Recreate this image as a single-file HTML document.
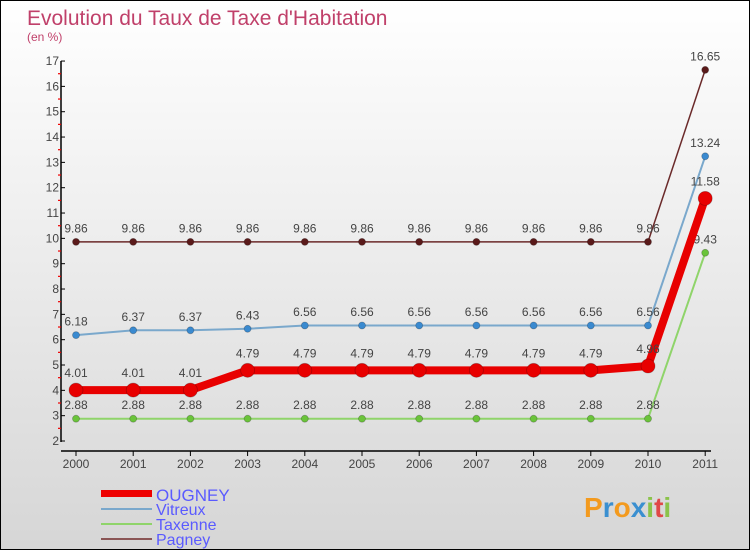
<!DOCTYPE html>
<html><head><meta charset="utf-8"><style>
body{margin:0}
#c{width:748px;height:548px;border:1px solid #000;background:linear-gradient(#fff,#d6d6d6);position:relative;overflow:hidden;font-family:"Liberation Sans",sans-serif}
</style></head><body>
<div id="c">
<svg id="s" width="748" height="548" xmlns="http://www.w3.org/2000/svg" font-family="Liberation Sans, sans-serif">
<text x="26" y="24" font-size="21" fill="#c0406a">Evolution du Taux de Taxe d'Habitation</text>
<text x="26" y="40" font-size="12" fill="#c0406a">(en %)</text>
<g id="axes"></g><g id="series"></g>
<g>
<rect x="100" y="489" width="51" height="7" fill="#e00"/>
<text x="155" y="500" font-size="17" fill="#5a5aff">OUGNEY</text>
<line x1="100" y1="508" x2="151" y2="508" stroke="#7aa8cc" stroke-width="2"/>
<text x="155" y="514" font-size="16" fill="#5a5aff">Vitreux</text>
<line x1="100" y1="523" x2="151" y2="523" stroke="#8fd46a" stroke-width="2"/>
<text x="155" y="529" font-size="16" fill="#5a5aff">Taxenne</text>
<line x1="100" y1="538" x2="151" y2="538" stroke="#8a5555" stroke-width="2"/>
<text x="155" y="544" font-size="16" fill="#5a5aff">Pagney</text>
</g>
<text x="583" y="516" font-size="28" font-weight="bold"><tspan fill="#f39a1e">P</tspan><tspan fill="#3a8fd0">r</tspan><tspan fill="#f39a1e">o</tspan><tspan fill="#3a8fd0">x</tspan><tspan fill="#8bc34a">i</tspan><tspan fill="#e04848">t</tspan><tspan fill="#8bc34a">i</tspan></text>
</svg></div>
<script>
const years=["2000","2001","2002","2003","2004","2005","2006","2007","2008","2009","2010","2011"];
const yTicks=[2,3,4,5,6,7,8,9,10,11,12,13,14,15,16,17];
const ougney=[4.01,4.01,4.01,4.79,4.79,4.79,4.79,4.79,4.79,4.79,4.96,11.58];
const vitreux=[6.18,6.37,6.37,6.43,6.56,6.56,6.56,6.56,6.56,6.56,6.56,13.24];
const taxenne=[2.88,2.88,2.88,2.88,2.88,2.88,2.88,2.88,2.88,2.88,2.88,9.43];
const pagney=[9.86,9.86,9.86,9.86,9.86,9.86,9.86,9.86,9.86,9.86,9.86,16.65];
const NS="http://www.w3.org/2000/svg";
const X=i=>75+i*57.2, Y=v=>440-(v-2)*25.33;
function mk(t,a,p){const e=document.createElementNS(NS,t);for(const k in a)e.setAttribute(k,a[k]);p.appendChild(e);return e;}
const ax=document.getElementById('axes');
const ya=mk('line',{x1:60,y1:60,x2:60,y2:441,stroke:'#000','stroke-width':1.5},ax);


const xa=mk('line',{x1:60,y1:450,x2:710,y2:450,stroke:'#000','stroke-width':1.5},ax);


yTicks.forEach(v=>{
 mk('line',{x1:60,y1:Y(v),x2:64,y2:Y(v),stroke:'#000'},ax);
 if(v<17)mk('line',{x1:57,y1:Y(v+0.5),x2:60,y2:Y(v+0.5),stroke:'#e00','stroke-width':1.2},ax);
 const t=mk('text',{x:58,y:Y(v)+4,'font-size':12,fill:'#444','text-anchor':'end'},ax);t.textContent=v;
 
 
});
years.forEach((y,i)=>{
 mk('line',{x1:X(i),y1:450,x2:X(i),y2:455,stroke:'#000'},ax);
 const t=mk('text',{x:X(i),y:467,'font-size':12,fill:'#444','text-anchor':'middle'},ax);t.textContent=y;
 
 
});
const sg=document.getElementById('series');
function draw(d,name,col,dot,w,r,fmt){
 const g=mk('g',{},sg);
 
 
 mk('polyline',{points:d.map((v,i)=>X(i)+','+Y(v)).join(' '),fill:'none',stroke:col,'stroke-width':w,'stroke-linejoin':'round'},g);
 d.forEach((v,i)=>{
  const c=mk('circle',{cx:X(i),cy:Y(v),r:r,fill:dot,stroke:'rgba(0,0,0,0.25)','stroke-width':0.8},g);
  
  
  const t=mk('text',{x:X(i),y:Y(v)-(r+6),'font-size':12,fill:'#444','text-anchor':'middle'},g);
  t.textContent=fmt(v);
  
  
 });
}
draw(pagney,'pagney','#6b2a2a','#5a1a1a',1.5,3.5,v=>v.toFixed(2));
draw(vitreux,'vitreux','#7aa8cc','#3a8ad0',2,3.5,v=>v.toFixed(2));
draw(taxenne,'taxenne','#8fd46a','#6ac43a',2,3.5,v=>v.toFixed(2));
draw(ougney,'ougney','#e80000','#e80000',8,7,v=>v.toFixed(2));
</script>
</body></html>
